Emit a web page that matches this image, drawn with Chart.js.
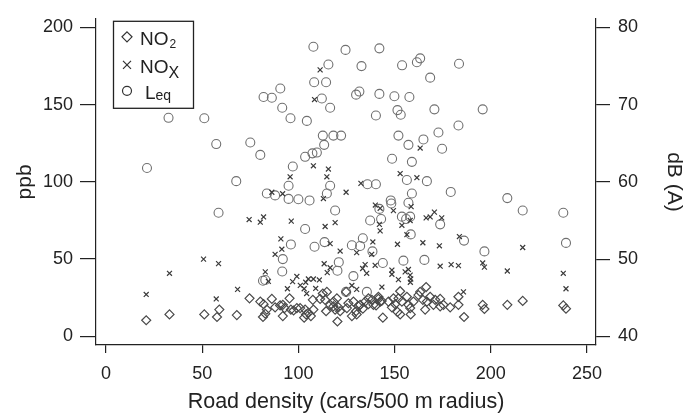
<!DOCTYPE html>
<html>
<head>
<meta charset="utf-8">
<title>Road density vs NO2, NOx and Leq</title>
<script src="https://cdn.jsdelivr.net/npm/chart.js@4.4.1/dist/chart.umd.min.js"></script>
<style>
  body { margin: 0; background: #fff; }
  #wrap { width: 686px; height: 416px; }
</style>
</head>
<body>
<div id="wrap"><canvas id="roadChart"></canvas></div>
<script>
// tick labels
const xTicks = [0, 50, 100, 150, 200, 250];
const ppbTicks = [0, 50, 100, 150, 200];
const dbTicks = [40, 50, 60, 70, 80];

// NO2 (ppb) against road density
const no2X = [20.9, 33, 51.1, 57.7, 58.9, 68, 74.6, 80.2, 81.9, 81.6, 82.8, 83.6, 86.2, 87.9, 91.9, 90.5, 91.9, 92.8, 95.4, 96.1,
  97.5, 99.2, 100.9, 103, 104, 105.2, 106.5, 107.8, 103.5, 107.5, 111.3, 112.7, 113.9, 114.8, 114.4, 116.5, 118.2, 118.2, 119.1, 120,
  120.8, 121.7, 120.3, 125.2, 124.8, 126, 127.8, 128.6, 130, 130.3, 131.2, 132.1, 133.5, 134.7, 136.4, 138.2, 139, 140.4, 141.6, 142.5,
  143.3, 143.9, 146.8, 148.6, 149.4, 150.3, 151.5, 152.9, 152.9, 153.8, 152, 156.4, 157.2, 158.1, 158.4, 159.8, 162.4, 163.3, 164.7, 165.9,
  166.4, 166.8, 168.5, 170.2, 171.1, 173.7, 173.7, 175.4, 178.9, 183.2, 183.2, 186.1, 195.8, 196.7, 208.6, 216.6, 237.7, 239.1, 136.4, 141.6];
const no2Y = [10.4, 14.2, 14.2, 12.5, 17.3, 13.75, 24.6, 22.5, 20.8, 12.5, 14.6, 17.3, 24.2, 18.75, 13.1, 20, 20.4, 18.3, 24.6, 17.3,
  16.7, 18.3, 18.3, 12.1, 14.2, 15.2, 13.1, 17.3, 17.3, 23.6, 24.2, 27.7, 23.6, 28.75, 16.25, 20.4, 19.4, 22.5, 17.3, 24.6,
  18.75, 16.25, 9.6, 18.3, 28.75, 21.4, 13.1, 22.5, 16.25, 14.2, 19.4, 20.4, 17.9, 22.5, 20.8, 23.6, 20.4, 20, 24.2, 22.5,
  22.9, 12.1, 22.5, 18.75, 24.6, 20.8, 15.8, 14.2, 29.2, 22.5, 24.6, 25.6, 20.4, 18.3, 14.2, 22.5, 26.7, 28.75, 23.6, 17.3,
  31.9, 22.5, 25.6, 20.4, 23.6, 24.2, 19.4, 20.4, 18.75, 20.4, 25.6, 12.5, 20.4, 17.7, 20.4, 22.9, 20, 17.9, 24.6, 25.6];

// NOx (ppb)
const noxX = [20.9, 33, 50.7, 57.3, 58.5, 68.4, 74.4, 80.2, 81.9, 82.8, 84.4, 86.2, 87.9, 90.9, 91.4, 91.8, 94.3, 95.7, 96.3, 97,
  99.2, 103, 103.8, 104.3, 105.2, 107.8, 107.8, 108.4, 110.9, 111.3, 113, 113.4, 113.9, 114.8, 115, 115.6, 116.5, 116.5, 119.1, 121.7,
  124.8, 127.8, 130.3, 130.3, 132.5, 133.4, 134.7, 135.5, 138.1, 138.7, 139.9, 140, 142.5, 142.1, 142.5, 143.4, 148.6, 148.6, 149.4, 151.5,
  152, 152.9, 153.8, 155.5, 156.4, 157.2, 158.1, 158.1, 158.4, 158.6, 161.6, 163.3, 164.7, 166.4, 168.5, 170.7, 173.3, 173.7, 174.5, 179.4,
  183.2, 183.7, 185.8, 195.8, 196.7, 208.6, 216.6, 237.7, 239.1, 101, 109, 158.2];
const noxY = [27.1, 40.8, 50, 24.2, 47.1, 30.4, 75.6, 73.9, 77.3, 41.7, 35.6, 93.3, 53.1, 63.1, 56.4, 92.3, 30.8, 103.3, 74.6, 35.4,
  38.75, 30.8, 35, 27.7, 37.1, 37.1, 110.4, 153.3, 36.5, 172.5, 89.2, 47, 71.1, 103.3, 41.25, 108.3, 60, 44.4, 73.6, 55.2,
  93.3, 32.9, 54.2, 30.4, 99, 43.9, 46.4, 40.8, 53.1, 61.1, 46, 85, 82.9, 72.5, 68.3, 31.9, 42.9, 40.2, 81.4, 59.6,
  36.7, 105.4, 71.9, 41.7, 65.8, 43.3, 39.6, 75, 37.1, 84, 102.7, 121.9, 60.6, 76.7, 77.3, 80.4, 58.6, 45.4, 76.7, 46.4,
  45.8, 64.6, 28.75, 47.5, 44.8, 42.3, 57.5, 40.8, 30.8, 33, 31, 35];

// Leq, dB(A), right axis
const leqX = [21.3, 32.5, 51.1, 57.3, 58.5, 67.7, 75, 80.2, 81.6, 82.8, 81.9, 86.2, 83.6, 87.9, 90.6, 91.6, 91.6, 91.9, 94.9, 94.9,
  95.9, 96.1, 97.1, 100, 103.5, 103.5, 104.4, 105.8, 107.3, 107.8, 108.2, 108.4, 109.6, 112.2, 112.7, 113.4, 113.6, 114.4, 114.8, 115.6,
  116.5, 116.5, 118.2, 119.1, 120.3, 121, 122.2, 124.5, 124.8, 127.8, 128.6, 130, 131.7, 132.1, 132.8, 133.5, 135.6, 135.9, 137.3, 138.5,
  140.3, 140.3, 142.1, 142.1, 142.1, 143, 143.9, 148, 148.3, 148.7, 149.9, 151.5, 152, 153.2, 153.8, 153.9, 154.6, 156, 156.4, 157.2,
  157.2, 157.7, 158.1, 158.4, 159, 159, 161.6, 163.3, 165, 165.5, 166.8, 168.5, 170.7, 172.8, 173.7, 174.7, 179.2, 183.2, 183.5, 186.1,
  195.8, 196.7, 208.6, 216.6, 237.7, 239.1];
const leqY = [61.8, 68.3, 68.25, 64.9, 56, 60.1, 65.1, 63.5, 47.2, 47.3, 71, 70.9, 58.5, 58.25, 72.1, 69.6, 48.4, 50, 59.5, 57.8,
  68.25, 51.9, 62, 57.75, 63.25, 53.9, 67.9, 57.6, 63.7, 77.5, 72.9, 51.6, 63.8, 70.8, 66, 64.8, 52.2, 72.9, 58.5, 75.2,
  69.6, 59.5, 66, 56.3, 48.5, 49.6, 66, 77.1, 45.75, 51.8, 47.8, 71.3, 71.7, 51.7, 75, 52.7, 45.75, 59.7, 55, 51,
  68.6, 59.7, 77.3, 71.4, 56.5, 55.2, 49.5, 57.6, 57.2, 63, 71.1, 69.3, 66, 68.7, 55.5, 75.1, 49.8, 55.2, 60.25, 64.8,
  57.3, 71, 55.5, 53.2, 62.6, 58.5, 75.5, 76, 65.5, 49.9, 60.1, 73.5, 69.4, 66.4, 54.5, 64.3, 58.7, 67.3, 75.3, 52.4,
  69.4, 51, 57.9, 56.3, 56, 52.1];

const toPoints = (xs, ys) => xs.map((x, i) => ({ x: x, y: ys[i] }));
const fixTicks = (list) => (scale) => { scale.ticks = list.map((v) => ({ value: v })); };

const FONT = "'Liberation Sans', Arial, Helvetica, sans-serif";
const INK = "#222";

// legend with real subscripts, drawn in a box at the top left
const boxLegend = {
  id: "boxLegend",
  afterDraw(chart) {
    const ctx = chart.ctx;
    const left = chart.chartArea.left + 17;
    const top = chart.chartArea.top + 2;
    ctx.save();
    ctx.strokeStyle = INK;
    ctx.lineWidth = 1.3;
    ctx.strokeRect(left + 0.5, top + 0.5, 80, 87);

    ctx.lineWidth = 1.2;
    ctx.strokeStyle = "#333";
    const mx = left + 14;
    // diamond
    ctx.beginPath();
    ctx.moveTo(mx, top + 11); ctx.lineTo(mx + 5, top + 16);
    ctx.lineTo(mx, top + 21); ctx.lineTo(mx - 5, top + 16);
    ctx.closePath(); ctx.stroke();
    // cross
    ctx.beginPath();
    ctx.moveTo(mx - 4, top + 40); ctx.lineTo(mx + 4, top + 48);
    ctx.moveTo(mx + 4, top + 40); ctx.lineTo(mx - 4, top + 48);
    ctx.stroke();
    // circle
    ctx.beginPath();
    ctx.arc(mx, top + 70, 4.5, 0, Math.PI * 2);
    ctx.stroke();

    ctx.fillStyle = INK;
    ctx.textBaseline = "alphabetic";
    ctx.textAlign = "left";
    const tx = left + 27;
    ctx.font = "19px " + FONT;
    ctx.fillText("NO", tx, top + 24);
    let w = ctx.measureText("NO").width;
    ctx.font = "12px " + FONT;
    ctx.fillText("2", tx + w + 1, top + 27);

    ctx.font = "19px " + FONT;
    ctx.fillText("NO", tx, top + 52);
    ctx.font = "16px " + FONT;
    ctx.fillText("X", tx + w, top + 57);

    ctx.font = "19px " + FONT;
    ctx.fillText("L", tx + 5, top + 78);
    w = ctx.measureText("L").width;
    ctx.font = "14px " + FONT;
    ctx.fillText("eq", tx + 5 + w, top + 79);
    ctx.restore();
  }
};

const ctx = document.getElementById("roadChart").getContext("2d");
new Chart(ctx, {
  type: "scatter",
  data: {
    datasets: [
      {
        label: "NO2",
        data: toPoints(no2X, no2Y),
        yAxisID: "y",
        pointStyle: "rectRot",
        pointRadius: 4.5,
        pointBorderWidth: 1.2,
        pointBorderColor: "#4a4a4a",
        pointBackgroundColor: "rgba(0,0,0,0)",
        order: 1,
      },
      {
        label: "NOx",
        data: toPoints(noxX, noxY),
        yAxisID: "y",
        pointStyle: "crossRot",
        pointRadius: 3.5,
        pointBorderWidth: 1.2,
        pointBorderColor: "#3a3a3a",
        pointBackgroundColor: "rgba(0,0,0,0)",
        order: 2,
      },
      {
        label: "Leq",
        data: toPoints(leqX, leqY),
        yAxisID: "y2",
        pointStyle: "circle",
        pointRadius: 4.5,
        pointBorderWidth: 1.1,
        pointBorderColor: "#707070",
        pointBackgroundColor: "rgba(0,0,0,0)",
        order: 3,
      },
    ],
  },
  options: {
    responsive: true,
    maintainAspectRatio: false,
    animation: false,
    events: [],
    layout: { padding: { top: 7, left: 0, right: 0, bottom: 0 } },
    plugins: {
      legend: { display: false },
      tooltip: { enabled: false },
    },
    scales: {
      x: {
        type: "linear",
        position: "bottom",
        min: -5.2,
        max: 254.7,
        afterBuildTicks: fixTicks(xTicks),
        afterFit: (s) => { s.height = 71; },
        border: { display: true, color: INK, width: 1.2 },
        grid: { drawOnChartArea: false, drawTicks: true, tickLength: 8, color: INK, lineWidth: 1.2 },
        ticks: { color: INK, font: { family: FONT, size: 18 }, padding: 10, maxRotation: 0 },
        title: {
          display: true,
          text: "Road density (cars/500 m radius)",
          color: INK,
          font: { family: FONT, size: 21.5 },
          padding: { top: 0, bottom: 1 },
        },
      },
      y: {
        type: "linear",
        position: "left",
        min: -5.625,
        max: 205.6,
        afterBuildTicks: fixTicks(ppbTicks),
        afterFit: (s) => { s.width = 96; },
        border: { display: true, color: INK, width: 1.2 },
        grid: { drawOnChartArea: false, drawTicks: true, tickLength: 16, color: INK, lineWidth: 1.2 },
        ticks: { color: INK, font: { family: FONT, size: 18 }, padding: 7 },
        title: {
          display: true,
          text: "ppb",
          color: INK,
          font: { family: FONT, size: 21 },
          padding: { top: 13, bottom: 0 },
        },
      },
      y2: {
        type: "linear",
        position: "right",
        min: 38.875,
        max: 81.125,
        afterBuildTicks: fixTicks(dbTicks),
        afterFit: (s) => { s.width = 90; },
        border: { display: true, color: INK, width: 1.2 },
        grid: { drawOnChartArea: false, drawTicks: true, tickLength: 14, color: INK, lineWidth: 1.2 },
        ticks: { color: INK, font: { family: FONT, size: 18 }, padding: 8 },
        title: {
          display: true,
          text: "dB (A)",
          color: INK,
          font: { family: FONT, size: 21 },
          padding: { top: 0, bottom: 0 },
        },
      },
    },
  },
  plugins: [boxLegend],
});
</script>
</body>
</html>
